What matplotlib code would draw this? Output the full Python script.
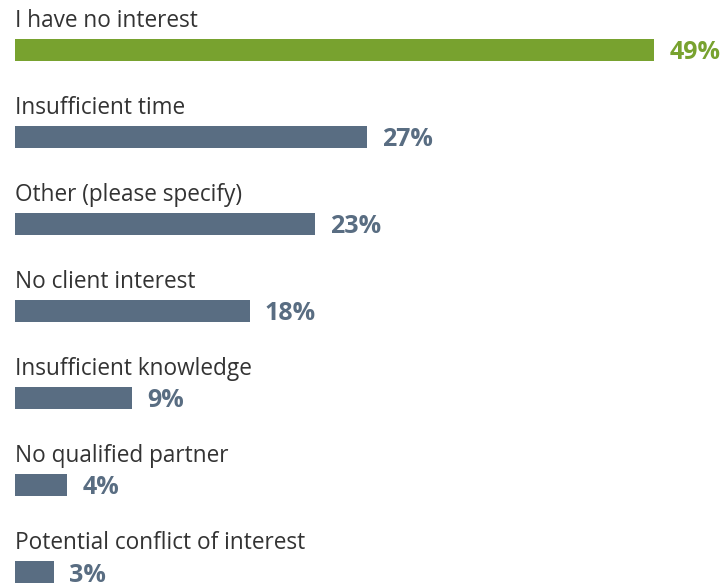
import matplotlib
matplotlib.use("Agg")
import matplotlib.pyplot as plt

# survey answers, top to bottom
labels = ["I have no interest", "Insufficient time", "Other (please specify)",
          "No client interest", "Insufficient knowledge", "No qualified partner",
          "Potential conflict of interest"]
values = [49, 27, 23, 18, 9, 4, 3]
colors = ["#78A22F"] + ["#596D82"] * 6

plt.rcParams['font.family'] = ['Open Sans', 'DejaVu Sans']

fig = plt.figure(figsize=(7.21, 5.84), dpi=100)
ax = fig.add_axes([0, 0, 1, 1])

px_x = 13.05   # pixels per percent
px_y = 87.0    # pixels per row
ypos = list(range(len(values)))

ax.barh(ypos, values, height=22 / px_y, color=colors, left=0)

for i, (lab, v, c) in enumerate(zip(labels, values, colors)):
    ax.text(0, i - 23 / px_y, lab, fontsize=16.3, color="#333333",
            ha="left", va="baseline")
    ax.text(v + 15 / px_x, i + 9.5 / px_y, f"{v}%", fontsize=18,
            fontweight="bold", color=c, ha="left", va="baseline")

ax.set_xlim(-15 / px_x, (721 - 15) / px_x)
ax.set_ylim((584 - 50) / px_y, -50 / px_y)
ax.axis("off")

fig.savefig("out.png", dpi=100)
